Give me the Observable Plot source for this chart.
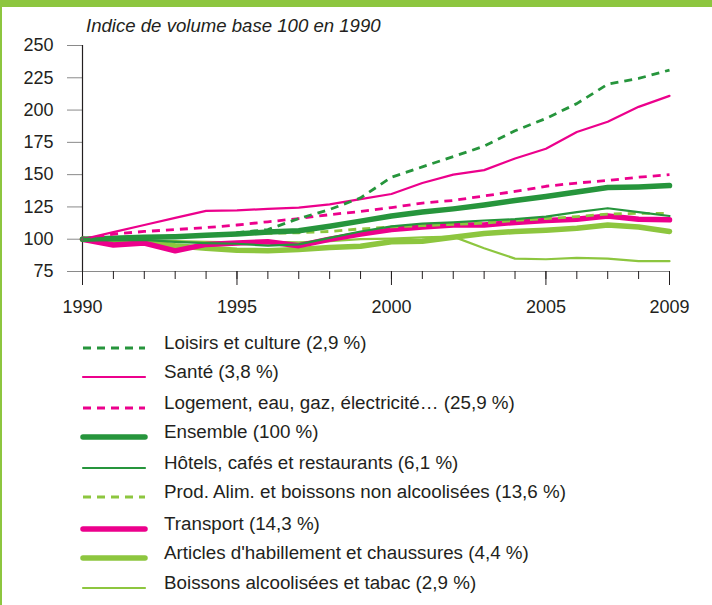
<!DOCTYPE html>
<html>
<head>
<meta charset="utf-8">
<script src="https://cdn.jsdelivr.net/npm/d3@7"></script>
<script src="https://cdn.jsdelivr.net/npm/@observablehq/plot@0.6"></script>
<style>
  html, body { margin: 0; padding: 0; background: #fff; }
  #page { position: relative; width: 712px; height: 605px; overflow: hidden; background: #fff;
          font-family: "Liberation Sans", Arial, Helvetica, sans-serif; color: #231f20; }
  #topband { position: absolute; left: 0; top: 0; width: 712px; height: 7px; background: #8dc63f; }
  #leftband { position: absolute; left: 0; top: 0; width: 2px; height: 605px; background: #8dc63f; }
  #title { position: absolute; left: 86px; top: 15px; font-size: 18.6px; font-style: italic; color: #231f20; white-space: nowrap; }
  #chart { position: absolute; left: 0; top: 0; }
  #legend { position: absolute; left: 0; top: 332px; }
  .item { position: absolute; left: 0; height: 30px; width: 700px; }
  .item svg { position: absolute; left: 80px; }
  .item span { position: absolute; left: 164px; font-size: 18.8px; white-space: nowrap; }
</style>
</head>
<body>
<div id="page">
  <div id="topband"></div>
  <div id="leftband"></div>
  <div id="chart"></div>
  <div id="title">Indice de volume base 100 en 1990</div>
  <div id="legend"></div>
</div>
<script>
const years = [1990,1991,1992,1993,1994,1995,1996,1997,1998,1999,2000,2001,2002,2003,2004,2005,2006,2007,2008,2009];
const yTicks = [75,100,125,150,175,200,225,250];
const xLabelTicks = [1990,1995,2000,2005,2009];

const seriesNames = [
  "Loisirs et culture (2,9 %)",
  "Santé (3,8 %)",
  "Logement, eau, gaz, électricité… (25,9 %)",
  "Ensemble (100 %)",
  "Hôtels, cafés et restaurants (6,1 %)",
  "Prod. Alim. et boissons non alcoolisées (13,6 %)",
  "Transport (14,3 %)",
  "Articles d'habillement et chaussures (4,4 %)",
  "Boissons alcoolisées et tabac (2,9 %)"
];

const loisirs   = [100,101,102,102.5,103,105,107.5,116,123,132,148,156,164,172,184,193.5,205,220,224.5,231];
const sante     = [100,105.5,111,116.5,122,122.3,123.5,124.5,127,131,135,143.5,150,153.5,162.5,170,183,191,202.5,211];
const logement  = [100,104,106,107.5,109,111,113.5,116,119,121.5,124.5,128,130,133.5,137,141,143.5,145.5,148,150];
const ensemble  = [100,100.8,101.5,102,103,104,105.5,106.5,110,114,118,121,123.5,126.5,130,133,136.5,140,140.5,141.5];
const hotels    = [100,99,99.5,98,97,96.5,95,96,101,106,110,112,113,114.5,115.5,117.5,121,124,121,118];
const prodAlim  = [100,101,102,102,103,104,104.5,105,106,108,109.5,110.5,111.5,112.5,114.5,116,117.5,119.5,120,120];
const transport = [100,95.5,97,91,96,97,98,95,100,104,107.5,109.5,111,111,113,114.5,115.5,118,115.5,115];
const habill    = [100,99,98,95,93,91.5,91,92,93.5,94.5,98,98.5,101.5,104.5,106,107,108.5,111,109.5,106];
const boissons  = [100,100,99,98.5,98,97.5,98,97.5,98.5,100,100.5,101.5,102,93,85,84.5,85.5,85,83,83];

const values = [loisirs, sante, logement, ensemble, hotels, prodAlim, transport, habill, boissons];

// styles (kept separate from data)
const DG = "#26953c", PK = "#ec008c", LG = "#8dc63f";
const colors = [DG, PK, PK, DG, DG, LG, PK, LG, LG];
const widths = [2.8, 2.2, 2.8, 5.5, 2.2, 2.8, 5.5, 5.5, 2.2];
const dashes = ["8,6", null, "8,6", null, null, "8,6", null, null, null];
const drawOrder = [8, 7, 6, 5, 4, 3, 2, 1, 0];

const table = [];
seriesNames.forEach((s, i) => years.forEach((yr, j) => table.push({series: s, year: yr, value: values[i][j]})));

const lineMarks = drawOrder.map(i => Plot.line(table.filter(d => d.series === seriesNames[i]), {
  x: "year", y: "value",
  stroke: colors[i], strokeWidth: widths[i],
  strokeDasharray: dashes[i] || undefined,
  strokeLinecap: dashes[i] ? "butt" : "round", strokeLinejoin: "round"
}));

const chart = Plot.plot({
  width: 712,
  height: 320,
  marginLeft: 82,
  marginRight: 43,
  marginTop: 45,
  marginBottom: 49,
  style: { fontFamily: "'Liberation Sans', Arial, Helvetica, sans-serif", fontSize: "18px", color: "#231f20", background: "transparent" },
  x: { domain: [1990, 2009] },
  y: { domain: [75, 250] },
  marks: [
    Plot.axisY(yTicks, { tickSize: 15, tickPadding: 14, stroke: "#8a8a8a", fill: "#231f20", fontSize: 18, label: null }),
    Plot.ruleY([75], { stroke: "#8a8a8a", strokeWidth: 1.2 }),
    Plot.axisX(years, { tickSize: 8, tickFormat: () => "", stroke: "#231f20", label: null }),
    Plot.axisX(xLabelTicks, { tickSize: 14, tickPadding: 15, tickFormat: "d", stroke: "#231f20", fill: "#231f20", fontSize: 18, label: null }),
    Plot.ruleX([1990], { stroke: "#231f20", strokeWidth: 1.2 }),
    ...lineMarks
  ]
});
document.getElementById("chart").appendChild(chart);

// legend
const legendTops = [0, 29, 60, 89, 120, 149, 181, 210, 240];
const leg = document.getElementById("legend");
seriesNames.forEach((s, i) => {
  const div = document.createElement("div");
  div.className = "item";
  div.style.top = legendTops[i] + "px";
  const w = widths[i];
  const dash = dashes[i] ? `stroke-dasharray="8,6"` : "";
  const cap = dashes[i] ? "butt" : "round";
  div.innerHTML = `<svg width="70" height="20" style="top:8px"><line x1="3" x2="65" y1="8" y2="8" stroke="${colors[i]}" stroke-width="${w}" stroke-linecap="${cap}" ${dash}/></svg><span style="top:0px">${s}</span>`;
  leg.appendChild(div);
});
</script>
</body>
</html>
